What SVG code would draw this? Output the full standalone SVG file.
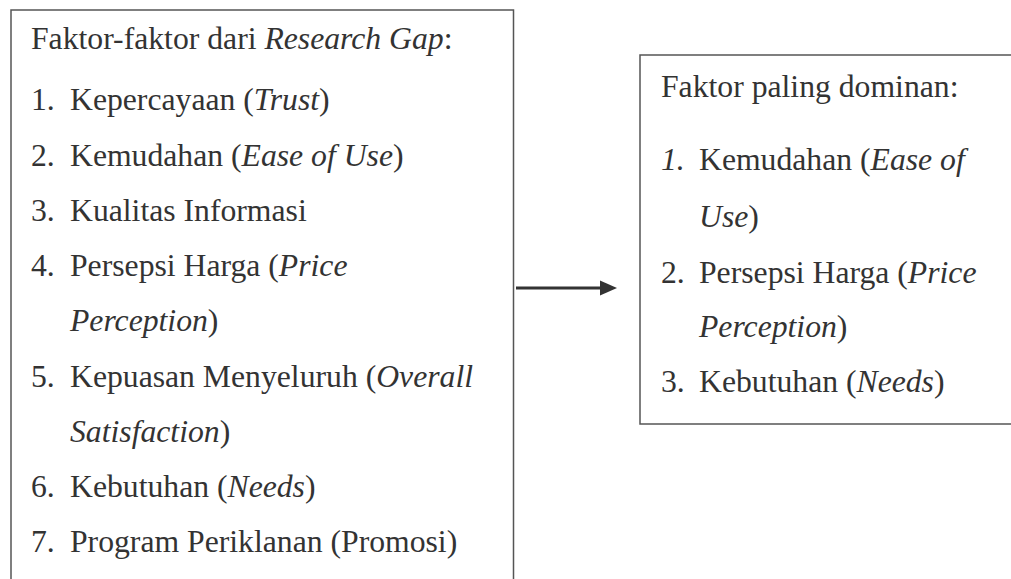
<svg xmlns="http://www.w3.org/2000/svg" width="1011" height="579" viewBox="0 0 1011 579">
<style>
text, tspan { font-family: 'Liberation Serif', 'Times New Roman', serif !important; }
.it { font-style: italic; }
.box { fill: none; stroke: #555; stroke-width: 1.5; }
</style>
<rect width="1011" height="579" fill="#fff"/>
<g id="node-research-gap" font-size="31.7" fill="#333">
<path class="box" d="M11,590 V10 H513.5 V590"/>
<text style="font-family:'Liberation Serif',serif" x="31" y="48.5">Faktor-faktor dari <tspan class="it">Research Gap</tspan>:</text>
<text style="font-family:'Liberation Serif',serif" x="31" y="110">1.</text>
<text style="font-family:'Liberation Serif',serif" x="70" y="110">Kepercayaan (<tspan class="it">Trust</tspan>)</text>
<text style="font-family:'Liberation Serif',serif" x="31" y="165.5">2.</text>
<text style="font-family:'Liberation Serif',serif" x="70" y="165.5">Kemudahan (<tspan class="it">Ease of Use</tspan>)</text>
<text style="font-family:'Liberation Serif',serif" x="31" y="221">3.</text>
<text style="font-family:'Liberation Serif',serif" x="70" y="221">Kualitas Informasi</text>
<text style="font-family:'Liberation Serif',serif" x="31" y="276">4.</text>
<text style="font-family:'Liberation Serif',serif" x="70" y="276">Persepsi Harga (<tspan class="it">Price</tspan></text>
<text style="font-family:'Liberation Serif',serif" x="70" y="331"><tspan class="it">Perception</tspan>)</text>
<text style="font-family:'Liberation Serif',serif" x="31" y="386.5">5.</text>
<text style="font-family:'Liberation Serif',serif" x="70" y="386.5">Kepuasan Menyeluruh (<tspan class="it">Overall</tspan></text>
<text style="font-family:'Liberation Serif',serif" x="70" y="441.7"><tspan class="it">Satisfaction</tspan>)</text>
<text style="font-family:'Liberation Serif',serif" x="31" y="497">6.</text>
<text style="font-family:'Liberation Serif',serif" x="70" y="497">Kebutuhan (<tspan class="it">Needs</tspan>)</text>
<text style="font-family:'Liberation Serif',serif" x="31" y="552">7.</text>
<text style="font-family:'Liberation Serif',serif" x="70" y="552">Program Periklanan (Promosi)</text>
</g>
<g id="node-dominan" font-size="31.7" fill="#333">
<path class="box" d="M1020,55 H640 V424 H1020"/>
<text style="font-family:'Liberation Serif',serif" x="661" y="96.7">Faktor paling dominan:</text>
<text style="font-family:'Liberation Serif',serif" class="it" x="661" y="170">1.</text>
<text style="font-family:'Liberation Serif',serif" x="699" y="170">Kemudahan (<tspan class="it">Ease of</tspan></text>
<text style="font-family:'Liberation Serif',serif" x="699" y="226.5"><tspan class="it">Use</tspan>)</text>
<text style="font-family:'Liberation Serif',serif" x="661" y="282.5">2.</text>
<text style="font-family:'Liberation Serif',serif" x="699" y="282.5">Persepsi Harga (<tspan class="it">Price</tspan></text>
<text style="font-family:'Liberation Serif',serif" x="699" y="337"><tspan class="it">Perception</tspan>)</text>
<text style="font-family:'Liberation Serif',serif" x="661" y="392">3.</text>
<text style="font-family:'Liberation Serif',serif" x="699" y="392">Kebutuhan (<tspan class="it">Needs</tspan>)</text>
</g>
<g id="connectors" fill="#333" stroke="none">
<rect x="516" y="286.5" width="87" height="3"/>
<polygon points="600,280.5 617,288 600,295.5"/>
</g>
</svg>
